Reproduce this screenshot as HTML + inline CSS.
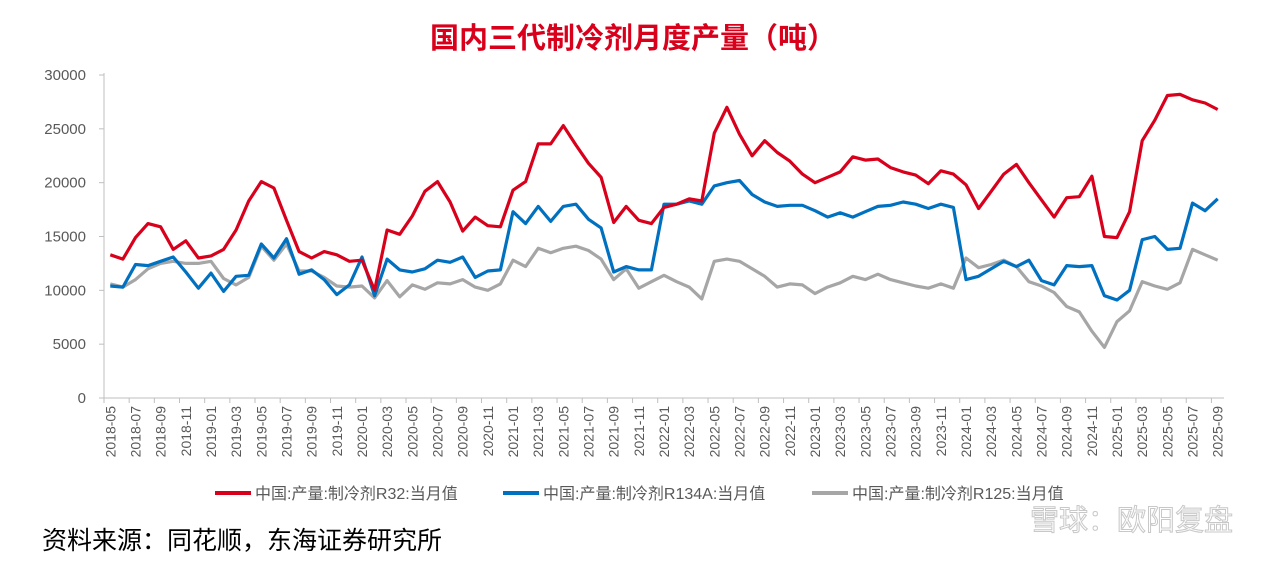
<!DOCTYPE html>
<html><head><meta charset="utf-8"><style>
body{margin:0;background:#fff;width:1271px;height:557px;overflow:hidden;font-family:"Liberation Sans","Noto Sans CJK SC",sans-serif}
</style></head><body>
<svg width="1271" height="557" xmlns="http://www.w3.org/2000/svg">
<text x="633" y="48" text-anchor="middle" font-size="29" font-weight="bold" fill="#d9001b" font-family="Liberation Sans, Noto Sans CJK SC, sans-serif">国内三代制冷剂月度产量（吨）</text>
<g id="yaxis"></g>
<g id="xaxis"></g>
<g id="series"></g>
<g font-size="16" fill="#595959">
<g><line x1="215" y1="493" x2="251" y2="493" stroke="#d9001b" stroke-width="4"/><text x="255" y="499">中国:产量:制冷剂R32:当月值</text></g>
<g><line x1="503" y1="493" x2="539" y2="493" stroke="#0070c0" stroke-width="4"/><text x="543" y="499">中国:产量:制冷剂R134A:当月值</text></g>
<g><line x1="812" y1="493" x2="848" y2="493" stroke="#a6a6a6" stroke-width="4"/><text x="852" y="499">中国:产量:制冷剂R125:当月值</text></g>
</g>
<text x="42" y="549" font-size="25" fill="#000">资料来源：同花顺，东海证券研究所</text>
<text x="1233" y="530" text-anchor="end" font-size="29" fill="#fff" stroke="#c8c8c8" stroke-width="1">雪球：欧阳复盘</text>
</svg>
<script>
const yTicks=[0,5000,10000,15000,20000,25000,30000];
const r32=[13300,12900,14900,16200,15900,13800,14600,13000,13200,13800,15600,18300,20100,19500,16500,13600,13000,13600,13300,12700,12800,10000,15600,15200,16900,19200,20100,18200,15500,16800,16000,15900,19300,20100,23600,23600,25300,23500,21800,20500,16300,17800,16500,16200,17700,18000,18500,18300,24600,27000,24500,22500,23900,22800,22000,20800,20000,20500,21000,22400,22100,22200,21400,21000,20700,19900,21100,20800,19800,17600,19200,20800,21700,20000,18400,16800,18600,18700,20600,15000,14900,17300,23900,25800,28100,28200,27700,27400,26800];
const r134a=[10400,10300,12400,12300,12700,13100,11700,10200,11600,9900,11300,11400,14300,13000,14800,11500,11900,11000,9600,10500,13100,9500,12900,11900,11700,12000,12800,12600,13100,11200,11800,11900,17300,16200,17800,16400,17800,18000,16600,15800,11700,12200,11900,11900,18000,18000,18300,18000,19700,20000,20200,18900,18200,17800,17900,17900,17400,16800,17200,16800,17300,17800,17900,18200,18000,17600,18000,17700,11000,11300,12000,12700,12200,12800,10900,10500,12300,12200,12300,9500,9100,10000,14700,15000,13800,13900,18100,17400,18500];
const r125=[10600,10300,11000,12000,12500,12700,12500,12500,12700,11100,10500,11200,14100,12800,14300,11800,11800,11200,10400,10300,10400,9300,10900,9400,10500,10100,10700,10600,11000,10300,10000,10600,12800,12200,13900,13500,13900,14100,13700,12900,11000,12000,10200,10800,11400,10800,10300,9200,12700,12900,12700,12000,11300,10300,10600,10500,9700,10300,10700,11300,11000,11500,11000,10700,10400,10200,10600,10200,13000,12100,12400,12800,12200,10800,10400,9800,8500,8000,6200,4700,7100,8100,10800,10400,10100,10700,13800,13300,12800];
const months=[];for(let y=2018,m=5;months.length<r32.length;){months.push(y+'-'+String(m).padStart(2,'0'));m++;if(m>12){m=1;y++;}}
const NS='http://www.w3.org/2000/svg';
const L=104,R=1224,T=75,B=398,YMAX=30000;
const step=(R-L)/months.length;
const xs=i=>L+(i+0.5)*step, ys=v=>B-(v/YMAX)*(B-T);
function mk(t,a,p){const e=document.createElementNS(NS,t);for(const k in a)e.setAttribute(k,a[k]);p.appendChild(e);return e;}
const ya=document.getElementById('yaxis'),xa=document.getElementById('xaxis'),sg=document.getElementById('series');
mk('line',{x1:L,y1:T-2,x2:L,y2:B,stroke:'#bfbfbf','stroke-width':1},ya);
yTicks.forEach(v=>{const y=ys(v);
 mk('line',{x1:L-5,y1:y,x2:L,y2:y,stroke:'#bfbfbf'},ya);
 const t=mk('text',{x:L-18,y:y+5,'text-anchor':'end','font-size':15,fill:'#595959'},ya);t.textContent=v;
 
 
});
mk('line',{x1:L,y1:B,x2:R,y2:B,stroke:'#bfbfbf'},xa);
months.forEach((m,i)=>{
 if(i%2===0){const x=L+i*step;mk('line',{x1:x,y1:B,x2:x,y2:B+5,stroke:'#bfbfbf'},xa);
  const t=mk('text',{x:0,y:0,transform:`translate(${xs(i)+5},${B+8}) rotate(-90)`,'text-anchor':'end','font-size':14,fill:'#595959'},xa);t.textContent=m;
  
  }
});
[[r125,'#a6a6a6','line-r125'],[r134a,'#0070c0','line-r134a'],[r32,'#d9001b','line-r32']].forEach(([d,c,n])=>{
 const p=mk('polyline',{points:d.map((v,i)=>xs(i).toFixed(1)+','+ys(v).toFixed(1)).join(' '),fill:'none',stroke:c,'stroke-width':3.2,'stroke-linejoin':'round'},sg);
 
 
});
</script>
</body></html>
